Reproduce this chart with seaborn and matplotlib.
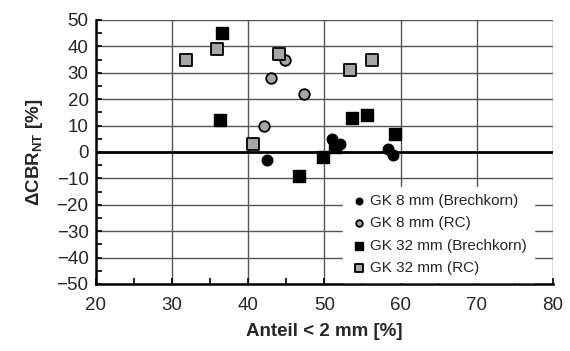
import matplotlib
matplotlib.use("Agg")
import matplotlib.pyplot as plt
import seaborn as sns
import pandas as pd
from matplotlib.ticker import MultipleLocator

# Series: share < 2 mm [%] and change of CBR_NT [%]
gk8_brech_x = [42.5, 51.0, 52.0, 58.3, 59.0]
gk8_brech_y = [-3, 5, 3, 1, -1]
gk8_rc_x = [44.9, 43.0, 47.4, 42.1]
gk8_rc_y = [35, 28, 22, 10]
gk32_brech_x = [36.6, 36.3, 53.6, 55.6, 59.3, 49.9, 46.7, 51.4]
gk32_brech_y = [45, 12, 13, 14, 7, -2, -9, 2]
gk32_rc_x = [31.9, 35.9, 44.0, 53.4, 56.2, 40.6]
gk32_rc_y = [35, 39, 37, 31, 35, 3]

labels = ["GK 8 mm (Brechkorn)", "GK 8 mm (RC)",
          "GK 32 mm (Brechkorn)", "GK 32 mm (RC)"]
x_ticks = [20, 30, 40, 50, 60, 70, 80]
y_ticks = [-50, -40, -30, -20, -10, 0, 10, 20, 30, 40, 50]

sns.set_theme(style="white")
plt.rcParams["font.family"] = ["Liberation Sans", "DejaVu Sans"]
plt.rcParams["mathtext.fontset"] = "custom"
plt.rcParams["mathtext.rm"] = "Liberation Sans:bold"
plt.rcParams["mathtext.bf"] = "Liberation Sans:bold"

df = pd.concat([
    pd.DataFrame({"x": gk8_brech_x, "y": gk8_brech_y, "s": labels[0]}),
    pd.DataFrame({"x": gk8_rc_x, "y": gk8_rc_y, "s": labels[1]}),
    pd.DataFrame({"x": gk32_brech_x, "y": gk32_brech_y, "s": labels[2]}),
    pd.DataFrame({"x": gk32_rc_x, "y": gk32_rc_y, "s": labels[3]}),
], ignore_index=True)

fig = plt.figure(figsize=(5.70, 3.51), dpi=100)
ax = fig.add_axes([95.5 / 570, 1 - 284 / 351, (553 - 95.5) / 570, (284 - 20) / 351])

grid_c = "#555555"
for xv in x_ticks[1:]:
    ax.axvline(xv, color=grid_c, lw=1.0, zorder=0)
for yv in y_ticks:
    if yv != 0:
        ax.axhline(yv, color=grid_c, lw=1.0, zorder=0)
ax.axhline(0, color="black", lw=2.0, zorder=1)

styles = {
    labels[0]: dict(marker="o", color="black", s=58, edgecolor="black", linewidth=1),
    labels[1]: dict(marker="o", color="#a6a6a6", s=58, edgecolor="black", linewidth=1.3),
    labels[2]: dict(marker="s", color="black", s=80, edgecolor="black", linewidth=1),
    labels[3]: dict(marker="s", color="#a6a6a6", s=80, edgecolor="black", linewidth=1.3),
}
for lab in labels:
    sub = df[df["s"] == lab]
    sns.scatterplot(data=sub, x="x", y="y", ax=ax, label=lab, zorder=3, **styles[lab])

ax.set_xlim(20, 80)
ax.set_ylim(-50, 50)
ax.set_xticks(x_ticks)
ax.set_yticks(y_ticks)
ax.xaxis.set_minor_locator(MultipleLocator(5))
ax.yaxis.set_minor_locator(MultipleLocator(5))
ax.tick_params(which="both", direction="in", length=4, width=1.2, color="black",
               bottom=True, left=True, top=False, right=False, labelsize=13.5)
ax.tick_params(axis="x", pad=9)
ax.tick_params(axis="y", pad=5)

for side in ["top", "right"]:
    ax.spines[side].set_visible(False)
for side in ["left", "bottom"]:
    ax.spines[side].set_color("black")
    ax.spines[side].set_linewidth(1.8)
    ax.spines[side].set_zorder(4)

ax.set_xlabel("Anteil < 2 mm [%]", fontsize=13.5, fontweight="bold", labelpad=7)
ax.set_ylabel(r"ΔCBR$_{\mathbf{NT}}$ [%]", fontsize=13.5, fontweight="bold", labelpad=8)

leg = ax.legend(loc="lower right", bbox_to_anchor=(0.958, 0.008), frameon=True,
                fontsize=11, handletextpad=0.05, labelspacing=0.55,
                borderpad=0.45, markerscale=0.62, handlelength=1.3,
                borderaxespad=0.0)
leg.get_frame().set_facecolor("white")
leg.get_frame().set_edgecolor("white")
leg.get_frame().set_alpha(1)
leg.get_frame().set_boxstyle("square", pad=0)
leg.set_zorder(5)

fig.savefig("out.png", dpi=100)
